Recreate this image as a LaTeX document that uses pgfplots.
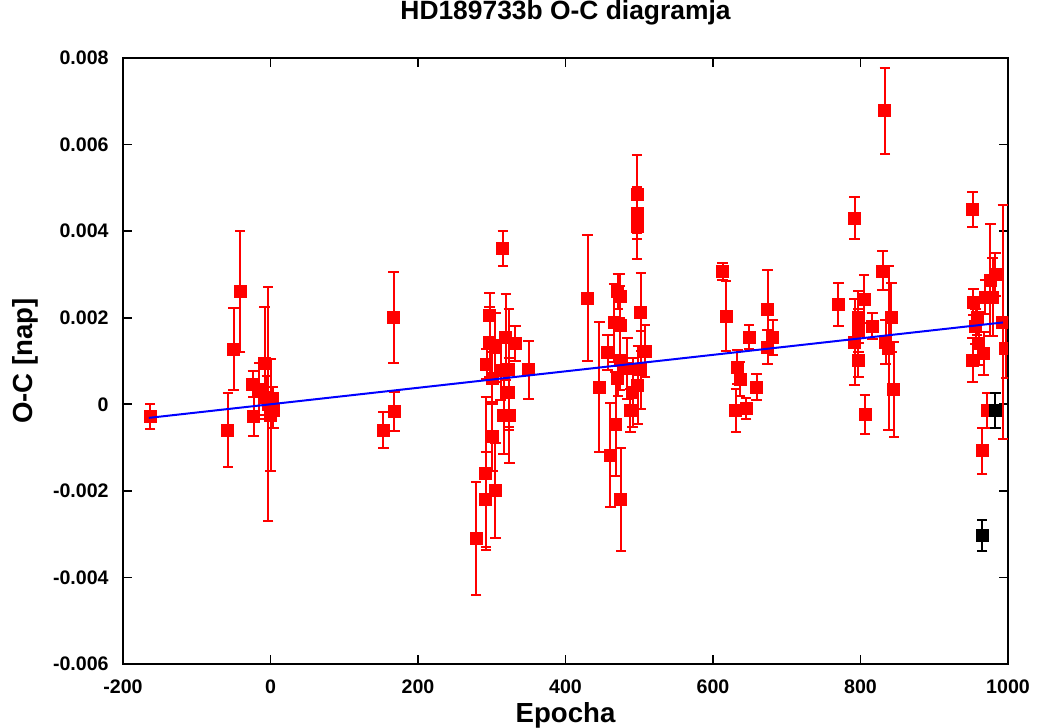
\documentclass[border=0pt]{standalone}
\usepackage{pgfplots}
\pgfplotsset{compat=1.18}
\usepackage{pgfplotstable}
\usepackage{fontspec}
\setmainfont{Liberation Sans}

% O-C values (epoch, O-C, error)
\pgfplotstableread{
x y e
-163 -0.00028 0.00028
-58 -0.0006 0.00085
-50 0.00127 0.00095
-41 0.0026 0.0014
-24 0.00046 0.0003
-23 -0.00028 0.00045
-8 0.00095 0.0013
-15 0.00035 0.0006
-3 0.0 0.0027
0 -0.00025 0.0013
3 0.0001 0.0003
-5 0.00016 0.0005
4 -0.00014 0.0004
153 -0.0006 0.00042
168 -0.00016 0.00045
167 0.002 0.00105
315 0.0036 0.0004
297 0.00206 0.0005
297 0.00144 0.0008
305 0.00132 0.0008
319 0.00155 0.001
332 0.0014 0.0004
293 0.00093 0.00035
301 0.0006 0.0006
312 0.00079 0.0007
323 0.00081 0.0014
350 0.0008 0.00067
323 0.00028 0.0008
316 -0.00025 0.0009
324 -0.00025 0.0011
301 -0.00074 0.0008
292 -0.0016 0.00176
292 -0.0022 0.0011
305 -0.002 0.0011
279 -0.0031 0.0013
430 0.00245 0.00145
446 0.0004 0.0015
457 0.0012 0.0004
461 -0.00118 0.0012
468 -0.00046 0.0012
475 -0.0022 0.0012
471 0.0026 0.0004
474 0.0025 0.0005
466 0.00188 0.0009
474 0.00183 0.0009
474 0.00102 0.0007
471 0.0006 0.0004
484 0.00083 0.0007
491 0.00028 0.0008
488 -0.00014 0.0005
498 0.00044 0.0009
502 0.0008 0.0009
502 0.00213 0.0009
508 0.00123 0.0006
497 0.00486 0.0009
497 0.00442 0.0006
497 0.00412 0.00076
613 0.00306 0.0002
618 0.00204 0.0008
633 0.00086 0.0004
637 0.00058 0.0004
631 -0.00014 0.0005
645 -0.0001 0.00025
649 0.00155 0.00027
659 0.0004 0.0003
674 0.0022 0.0009
681 0.00155 0.0004
674 0.00132 0.0004
770 0.00231 0.0005
792 0.0043 0.00049
833 0.00678 0.001
830 0.00308 0.00045
805 0.00243 0.00055
797 0.00201 0.0006
816 0.0018 0.0003
842 0.00201 0.0008
838 0.0013 0.0019
845 0.00035 0.0011
792 0.00144 0.001
797 0.00102 0.0004
806 -0.00023 0.00045
797 0.0017 0.0005
834 0.00144 0.0005
952 0.0045 0.0004
976 0.00287 0.0013
979 0.00248 0.0009
953 0.00236 0.0003
956 0.0018 0.0004
960 0.0014 0.0005
952 0.00102 0.0005
967 0.00118 0.0005
993 0.0019 0.0027
997 0.0013 0.0007
972 -0.00014 0.0004
965 -0.00107 0.00053
969 0.00248 0.0004
983 0.003 0.0005
958 0.002 0.0004
}\redpts

\pgfplotstableread{
x y e
983 -0.00014 0.0004
965 -0.00303 0.00035
}\blackpts

\begin{document}
\begin{tikzpicture}
\begin{axis}[
    width=442.5pt, height=303pt,
    scale only axis,
    xmin=-200, xmax=1000,
    ymin=-0.006, ymax=0.008,
    xtick={-200,0,200,400,600,800,1000},
    xticklabels={-200,0,200,400,600,800,1000},
    ytick={-0.006,-0.004,-0.002,0,0.002,0.004,0.006,0.008},
    yticklabels={-0.006,-0.004,-0.002,0,0.002,0.004,0.006,0.008},
    scaled y ticks=false,
    tick align=inside,
    major tick length=4.5pt,
    minor tick num=0,
    axis line style={line width=0.8pt},
    tick style={line width=0.8pt, black},
    tick label style={font=\bfseries\fontsize{9.8}{10}\selectfont, inner sep=0pt},
    xticklabel style={anchor=base, yshift=-14.5pt},
    yticklabel style={anchor=east, xshift=-7pt},
    title={HD189733b O-C diagramja},
    title style={font=\bfseries\fontsize{13.2}{14}\selectfont, at={(axis description cs:0.5,1)}, anchor=base, yshift=13pt},
    xlabel={Epocha},
    xlabel style={font=\bfseries\fontsize{13.8}{15}\selectfont, at={(axis description cs:0.5,0)}, anchor=base, yshift=-29pt},
    ylabel={O-C [nap]},
    ylabel style={font=\bfseries\fontsize{13.8}{15}\selectfont, at={([xshift=-45pt]axis description cs:0,0.5)}, anchor=base, rotate=0},
    clip marker paths=true,
]
\addplot[only marks, mark=square*, color=red, mark size=3pt,
    error bars/.cd, y dir=both, y explicit,
    error mark=-,
    error bar style={line width=1pt, red},
    error mark options={rotate=90, red, mark size=2.6pt, line width=1pt}]
    table[x=x, y=y, y error=e] {\redpts};
\addplot[blue, line width=1pt] coordinates {(-165,-0.000314) (993,0.00189)};
\addplot[only marks, mark=square*, color=black, mark size=3pt,
    error bars/.cd, y dir=both, y explicit,
    error mark=-,
    error bar style={line width=1pt, black},
    error mark options={rotate=90, black, mark size=2.6pt, line width=1pt}]
    table[x=x, y=y, y error=e] {\blackpts};
\coordinate (sw) at (rel axis cs:0,0);
\coordinate (ne) at (rel axis cs:1,1);
\end{axis}
\pgfresetboundingbox
\path ([shift={(-61.5pt,-31.5pt)}]sw) rectangle ([shift={(14.5pt,29pt)}]ne);
\end{tikzpicture}
\end{document}
